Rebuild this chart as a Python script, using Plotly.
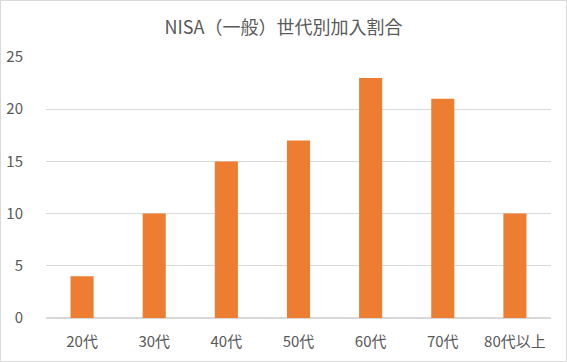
import plotly.graph_objects as go

categories = ["20代", "30代", "40代", "50代", "60代", "70代", "80代以上"]
values = [4, 10, 15, 17, 23, 21, 10]
y_ticks = [0, 5, 10, 15, 20, 25]

W, H = 567, 362
L, R, T, B = 46, 16, 57, 44
FONT = "Noto Sans CJK JP, Meiryo, sans-serif"
GRAY = "#595959"

fig = go.Figure(go.Bar(x=categories, y=values, marker_color="#ED7D31",
                       marker_line_width=0, hoverinfo="skip"))

pw, ph = W - L - R, H - T - B
fig.add_shape(type="rect", xref="paper", yref="paper",
              x0=(-L + 0.5) / pw, x1=1 + (R - 0.5) / pw,
              y0=(-B + 0.5) / ph, y1=1 + (T - 0.5) / ph,
              line=dict(color="#D9D9D9", width=1), layer="below")

fig.update_layout(
    width=W, height=H,
    margin=dict(l=L, r=R, t=T, b=B, pad=0, autoexpand=False),
    paper_bgcolor="white", plot_bgcolor="white",
    font=dict(family=FONT, size=15, color=GRAY),
    title=dict(text="NISA（一般）世代別加入割合", x=0.5, xanchor="center",
               y=1 - 28 / H, yanchor="middle",
               font=dict(family=FONT, size=18, color=GRAY)),
    bargap=0.68,
    showlegend=False,
    xaxis=dict(showgrid=False, showline=True, linecolor="#D9D9D9", linewidth=1,
               automargin=False, ticks="", ticklabelstandoff=10,
               tickfont=dict(size=15, color=GRAY)),
    yaxis=dict(range=[0, 25], tickvals=y_ticks, showgrid=True, gridcolor="#D9D9D9",
               gridwidth=1, zeroline=True, zerolinecolor="#D9D9D9", showline=False,
               automargin=False, ticks="", ticklabelstandoff=22,
               tickfont=dict(size=15, color=GRAY)),
)

fig.write_html("out.html", config={"displayModeBar": False, "staticPlot": True},
               post_script="document.body.style.margin='0';")
